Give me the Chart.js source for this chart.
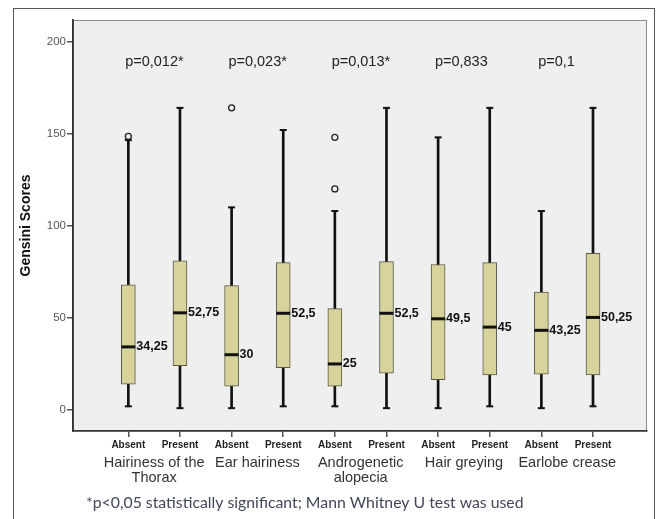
<!DOCTYPE html>
<html>
<head>
<meta charset="utf-8">
<script src="https://cdn.jsdelivr.net/npm/chart.js@4.4.0/dist/chart.umd.min.js"></script>
<style>
body { margin: 0; background: #fff; }
#wrap { width: 659px; height: 519px; position: relative; }
</style>
</head>
<body>
<div id="wrap"><canvas id="myChart"></canvas></div>
<script>
let popCanvas = document.getElementById("myChart");

// ---------------- data ----------------
let groupLabels = [["Hairiness of the", "Thorax"], ["Ear hairiness"], ["Androgenetic", "alopecia"], ["Hair greying"], ["Earlobe crease"]];
let statusLabels = ["Absent", "Present", "Absent", "Present", "Absent", "Present", "Absent", "Present", "Absent", "Present"];
let pValues = ["p=0,012*", "p=0,023*", "p=0,013*", "p=0,833", "p=0,1"];
let pLabelLevel = 189;

let minValues = [2, 1, 1, 2, 2, 1, 1, 2, 1, 2];
let q1Values = [14, 24, 13, 23, 13, 20, 16.5, 19, 19.5, 19];
let medianValues = [34.25, 52.75, 30, 52.5, 25, 52.5, 49.5, 45, 43.25, 50.25];
let q3Values = [68, 81, 67.5, 80, 55, 80.5, 79, 80, 64, 85];
let maxValues = [146.5, 164, 110, 152, 108, 164, 148, 164, 108, 164];
let outlierValues = [[148.5], [], [164], [], [148, 120], [], [], [], [], []];

let yTicks = [0, 50, 100, 150, 200];
let footnote = "*p<0,05 statistically significant; Mann Whitney U test was used";

// ---------------- datasets ----------------
let boxData = {
    label: 'box',
    type: 'bar',
    data: q1Values.map((q, i) => ({ x: i, y: [q, q3Values[i]] })),
    backgroundColor: '#d8d39b',
    borderColor: '#5a5a4a',
    borderWidth: 1,
    borderSkipped: false,
    barThickness: 14,
    grouped: false,
    order: 3
}

let whiskerData = {
    label: 'whisker',
    type: 'bar',
    data: minValues.map((m, i) => ({ x: i, y: [m, maxValues[i]] })),
    backgroundColor: '#111',
    borderWidth: 0,
    barThickness: 2,
    grouped: false,
    order: 4
}

let capData = {
    label: 'caps',
    type: 'scatter',
    data: minValues.flatMap((m, i) => [{ x: i, y: m }, { x: i, y: maxValues[i] }]),
    pointStyle: 'line',
    pointRadius: 3.5,
    borderColor: '#111',
    borderWidth: 2,
    order: 2
}

let medianData = {
    label: 'median',
    type: 'scatter',
    data: medianValues.map((m, i) => ({ x: i, y: m })),
    pointStyle: 'line',
    pointRadius: 7,
    borderColor: '#111',
    borderWidth: 3,
    order: 1
}

let outlierData = {
    label: 'outliers',
    type: 'scatter',
    data: outlierValues.flatMap((list, i) => list.map(v => ({ x: i, y: v }))),
    pointStyle: 'circle',
    pointRadius: 3,
    backgroundColor: '#efefef',
    borderColor: '#222',
    borderWidth: 1.3,
    order: 0
}

// ---------------- background, frame and text ----------------
let decorations = {
    id: 'decorations',
    beforeDraw(chart) {
        let { ctx, chartArea: a } = chart;
        ctx.save();
        ctx.fillStyle = '#fff';
        ctx.fillRect(0, 0, chart.width, chart.height);
        ctx.strokeStyle = '#555';
        ctx.lineWidth = 1;
        ctx.strokeRect(13.5, 8.5, 641, 530);
        ctx.fillStyle = '#efefef';
        ctx.fillRect(a.left, a.top, a.right - a.left, a.bottom - a.top);
        ctx.strokeStyle = '#8a8a8a';
        ctx.strokeRect(a.left + 0.5, a.top + 0.5, a.right - a.left - 1, a.bottom - a.top - 1);
        ctx.restore();
    },
    afterDatasetsDraw(chart) {
        let { ctx, scales: { x, y } } = chart;
        ctx.save();
        ctx.textAlign = 'left';
        ctx.textBaseline = 'middle';
        ctx.font = 'bold 12.5px "Liberation Sans", Arial, sans-serif';
        ctx.fillStyle = '#111';
        medianValues.forEach((m, i) => {
            ctx.fillText(String(m).replace('.', ','), x.getPixelForValue(i) + 8, y.getPixelForValue(m));
        });
        ctx.font = '14.5px "Liberation Sans", Arial, sans-serif';
        ctx.fillStyle = '#222';
        pValues.forEach((p, g) => {
            ctx.fillText(p, x.getPixelForValue(2 * g + 0.5) - 29, y.getPixelForValue(pLabelLevel));
        });
        ctx.font = '15.8px Lato, sans-serif';
        ctx.fillStyle = '#404858';
        ctx.fillText(footnote, 86, 503);
        ctx.restore();
    }
}

// ---------------- chart ----------------
let boxChart = new Chart(popCanvas, {
    type: 'bar',
    data: { datasets: [boxData, whiskerData, capData, medianData, outlierData] },
    options: {
        responsive: true,
        maintainAspectRatio: false,
        animation: false,
        events: [],
        layout: { padding: { top: 20, right: 12, left: 0, bottom: 0 } },
        plugins: { legend: { display: false }, tooltip: { enabled: false } },
        scales: {
            x: {
                type: 'linear',
                min: -1.072,
                max: 10.046,
                offset: false,
                weight: 0,
                afterBuildTicks: axis => { axis.ticks = statusLabels.map((s, i) => ({ value: i })); },
                afterFit: axis => { axis.height = 24; },
                grid: { offset: false, drawOnChartArea: false, tickLength: 6, color: '#555', lineWidth: 1.5 },
                border: { color: '#333', width: 1.8 },
                ticks: {
                    autoSkip: false, maxRotation: 0, minRotation: 0, padding: 2,
                    color: '#222',
                    font: { family: '"Liberation Sans", Arial, sans-serif', size: 10, weight: 'bold' },
                    callback: (v, i) => statusLabels[i]
                }
            },
            x2: {
                type: 'linear',
                position: 'bottom',
                min: -1.072,
                max: 10.046,
                offset: false,
                weight: 1,
                afterBuildTicks: axis => { axis.ticks = groupLabels.map((g, i) => ({ value: 2 * i + 0.5 })); },
                afterFit: axis => { axis.height = 64; },
                grid: { display: false, drawTicks: false },
                border: { display: false },
                ticks: {
                    autoSkip: false, maxRotation: 0, minRotation: 0, padding: 0,
                    color: '#333',
                    font: { family: '"Liberation Sans", Arial, sans-serif', size: 14.5, lineHeight: 1.05 },
                    callback: (v, i) => groupLabels[i]
                }
            },
            y: {
                min: -11.4,
                max: 211.7,
                afterBuildTicks: axis => { axis.ticks = yTicks.map(v => ({ value: v })); },
                afterFit: axis => { axis.width = 73; },
                grid: { drawOnChartArea: false, tickLength: 6, color: '#555', lineWidth: 1.5 },
                border: { color: '#333', width: 1.8 },
                ticks: {
                    padding: 1,
                    color: '#555',
                    font: { family: '"Liberation Sans", Arial, sans-serif', size: 11.5 }
                },
                title: {
                    display: true,
                    text: 'Gensini Scores',
                    color: '#111',
                    padding: { top: 18, bottom: 0 },
                    font: { family: '"Liberation Sans", Arial, sans-serif', size: 14, weight: 'bold' }
                }
            }
        }
    },
    plugins: [decorations]
});
</script>
</body>
</html>
